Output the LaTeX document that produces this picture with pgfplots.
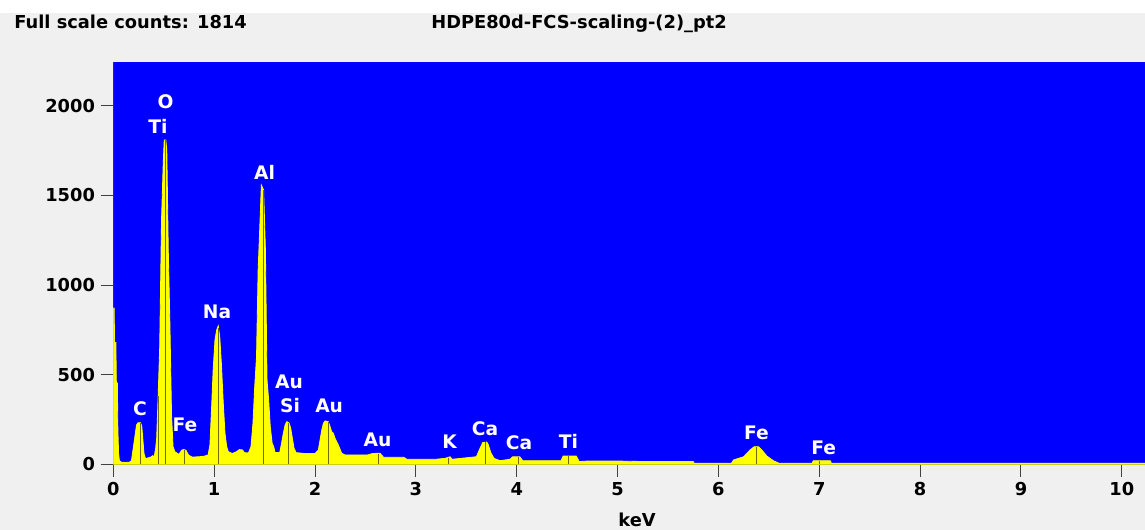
\documentclass[border=0pt]{standalone}
\usepackage{fontspec}
\setmainfont{DejaVu Sans}
\usepackage{pgfplots}
\pgfplotsset{compat=1.18}
\definecolor{bggray}{HTML}{F0F0F0}
\definecolor{specyellow}{HTML}{FFFF00}
\definecolor{markline}{HTML}{6E6E00}
\definecolor{bgblue}{HTML}{0000FF}
\newcommand{\tf}{\fontsize{10.7}{12}\selectfont\bfseries}
\newcommand{\lf}{\fontsize{11.2}{13}\selectfont\bfseries}
\begin{document}
\begin{tikzpicture}
\path[use as bounding box, fill=bggray] (0,0) rectangle (687pt,318pt);
\fill[white] (0,310.2pt) rectangle (687pt,318pt);
\node[anchor=base west, inner sep=0pt, font=\tf] at (8.4pt,300.9pt) {Full scale counts: 1814};
\node[anchor=base west, inner sep=0pt, font=\tf] at (258.6pt,300.9pt) {HDPE80d-FCS-scaling-(2)\_pt2};
\begin{axis}[
  at={(68pt,39.42pt)}, anchor=south west,
  width=619pt, height=241.4pt, scale only axis,
  xmin=0, xmax=10.23, ymin=0, ymax=2245,
  axis x line=bottom, axis y line=left,
  axis line style={-, black!80, line width=0.6pt},
  axis background/.style={fill=bgblue},
  xtick={0,1,...,10}, ytick={0,500,1000,1500,2000},
  tick align=outside, major tick length=7.5pt,
  tick style={black!75, line width=0.6pt},
  ticklabel style={font=\tf},
  /pgf/number format/assume math mode=true,
  scaled y ticks=false,
  yticklabel style={/pgf/number format/1000 sep={}},
]
\addplot[fill=specyellow, draw=specyellow, line width=0.5pt] coordinates {
(0.000,872) (0.008,872) (0.012,680) (0.025,680) (0.030,454) (0.040,454)
(0.045,190) (0.052,63) (0.060,20) (0.080,12) (0.120,10) (0.160,12)
(0.180,20) (0.195,80) (0.212,147) (0.230,219) (0.245,232) (0.270,232)
(0.282,212) (0.292,143) (0.304,60) (0.320,30) (0.340,35) (0.370,40)
(0.390,48) (0.405,40) (0.420,90) (0.430,147) (0.445,387) (0.460,656)
(0.478,1363) (0.495,1680) (0.505,1810) (0.520,1810) (0.530,1754)
(0.545,1186) (0.560,805) (0.577,275) (0.592,98) (0.610,70) (0.630,63)
(0.650,55) (0.680,80) (0.700,82) (0.720,78) (0.745,52) (0.780,40)
(0.850,42) (0.900,45) (0.940,52) (0.958,108) (0.975,321) (0.990,526)
(1.008,694) (1.025,750) (1.040,772) (1.055,712) (1.072,554) (1.090,340)
(1.107,173) (1.124,98) (1.140,70) (1.180,60) (1.220,70) (1.250,82)
(1.280,80) (1.300,65) (1.340,63) (1.365,98) (1.385,230) (1.402,433)
(1.420,600) (1.436,1084) (1.452,1317) (1.468,1558) (1.490,1530)
(1.508,1196) (1.524,470) (1.540,359) (1.556,210) (1.575,117) (1.590,98)
(1.604,65) (1.650,65) (1.668,117) (1.686,173) (1.703,219) (1.720,238)
(1.743,230) (1.759,201) (1.775,145) (1.792,89) (1.812,65) (1.900,60)
(2.000,60) (2.033,80) (2.050,136) (2.067,191) (2.083,229) (2.100,242)
(2.132,238) (2.149,210) (2.165,182) (2.182,173) (2.198,145) (2.215,126)
(2.231,108) (2.248,84) (2.265,61) (2.300,52) (2.520,52) (2.570,60)
(2.610,61) (2.645,61) (2.680,39) (2.880,39) (2.910,28) (3.200,28)
(3.290,33) (3.339,42) (3.360,28) (3.600,42) (3.636,89) (3.663,121)
(3.703,124) (3.719,108) (3.743,65) (3.775,33) (3.835,20) (3.934,28)
(3.960,42) (4.030,42) (4.060,20) (4.440,20) (4.460,46) (4.590,46)
(4.620,15) (4.700,18) (5.000,18) (5.300,15) (5.600,15) (5.750,15)
(5.760,6) (6.130,6) (6.150,24) (6.250,42) (6.314,80) (6.354,98)
(6.397,98) (6.430,80) (6.480,46) (6.545,20) (6.600,6) (6.930,6)
(6.940,20) (7.110,20) (7.120,5) (10.23,5)
} \closedcycle;
\addplot[ycomb, draw=markline, line width=0.6pt, mark=none] coordinates {
(0.272,230) (0.447,380) (0.520,1810) (0.705,80) (1.045,760) (1.490,1530)
(1.740,232) (2.135,236) (2.625,60) (3.320,33) (3.695,124) (4.015,42)
(4.510,46) (6.380,98) (7.000,20)
};
\node[font=\lf, text=white, inner sep=0pt] at (axis cs:0.518,2024) {O};
\node[font=\lf, text=white, inner sep=0pt] at (axis cs:0.443,1888) {Ti};
\node[font=\lf, text=white, inner sep=0pt] at (axis cs:1.499,1631) {Al};
\node[font=\lf, text=white, inner sep=0pt] at (axis cs:1.028,851) {Na};
\node[font=\lf, text=white, inner sep=0pt] at (axis cs:1.742,461) {Au};
\node[font=\lf, text=white, inner sep=0pt] at (axis cs:1.752,327) {Si};
\node[font=\lf, text=white, inner sep=0pt] at (axis cs:2.140,327) {Au};
\node[font=\lf, text=white, inner sep=0pt] at (axis cs:0.265,310) {C};
\node[font=\lf, text=white, inner sep=0pt] at (axis cs:0.711,221) {Fe};
\node[font=\lf, text=white, inner sep=0pt] at (axis cs:2.620,138) {Au};
\node[font=\lf, text=white, inner sep=0pt] at (axis cs:3.334,125) {K};
\node[font=\lf, text=white, inner sep=0pt] at (axis cs:3.686,198) {Ca};
\node[font=\lf, text=white, inner sep=0pt] at (axis cs:4.023,121) {Ca};
\node[font=\lf, text=white, inner sep=0pt] at (axis cs:4.514,125) {Ti};
\node[font=\lf, text=white, inner sep=0pt] at (axis cs:6.378,175) {Fe};
\node[font=\lf, text=white, inner sep=0pt] at (axis cs:7.043,94) {Fe};
\end{axis}
\node[font=\tf, anchor=base, inner sep=0pt] at (382.2pt,1.8pt) {keV};
\end{tikzpicture}
\end{document}
